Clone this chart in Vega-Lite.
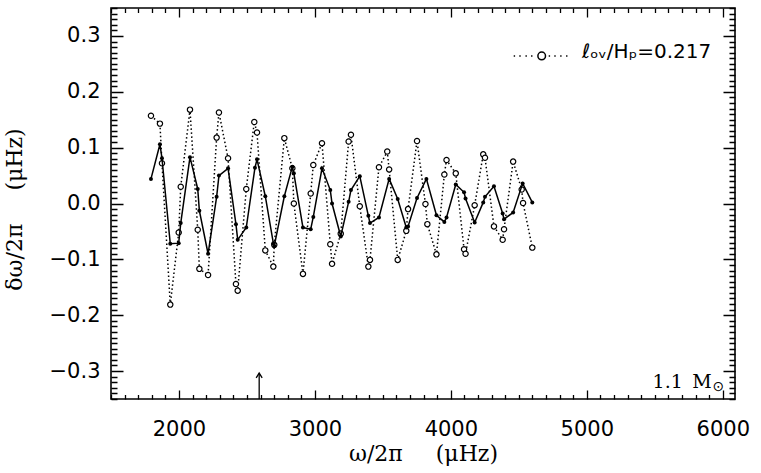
{
  "$schema": "https://vega.github.io/schema/vega-lite/v6.json",
  "width": 624,
  "height": 391,
  "autosize": {"type": "none"},
  "padding": {"left": 111, "top": 8, "right": 26, "bottom": 74},
  "background": "white",
  "config": {"view": {"stroke": "black", "strokeWidth": 1.6}},
  "datasets": {
    "modes": [
      {"nu": 1794, "dnu": 0.044, "series": "filled"},
      {"nu": 1860, "dnu": 0.106, "series": "filled"},
      {"nu": 1875, "dnu": 0.081, "series": "filled"},
      {"nu": 1936, "dnu": -0.072, "series": "filled"},
      {"nu": 1998, "dnu": -0.071, "series": "filled"},
      {"nu": 2013, "dnu": -0.035, "series": "filled"},
      {"nu": 2081, "dnu": 0.083, "series": "filled"},
      {"nu": 2138, "dnu": 0.026, "series": "filled"},
      {"nu": 2150, "dnu": -0.013, "series": "filled"},
      {"nu": 2214, "dnu": -0.090, "series": "filled"},
      {"nu": 2277, "dnu": 0.012, "series": "filled"},
      {"nu": 2294, "dnu": 0.050, "series": "filled"},
      {"nu": 2361, "dnu": 0.063, "series": "filled"},
      {"nu": 2419, "dnu": -0.037, "series": "filled"},
      {"nu": 2432, "dnu": -0.065, "series": "filled"},
      {"nu": 2495, "dnu": -0.043, "series": "filled"},
      {"nu": 2559, "dnu": 0.064, "series": "filled"},
      {"nu": 2574, "dnu": 0.079, "series": "filled"},
      {"nu": 2635, "dnu": 0.013, "series": "filled"},
      {"nu": 2694, "dnu": -0.071, "series": "filled"},
      {"nu": 2701, "dnu": -0.076, "series": "filled"},
      {"nu": 2775, "dnu": 0.013, "series": "filled"},
      {"nu": 2834, "dnu": 0.066, "series": "filled"},
      {"nu": 2845, "dnu": 0.054, "series": "filled"},
      {"nu": 2912, "dnu": -0.043, "series": "filled"},
      {"nu": 2969, "dnu": -0.046, "series": "filled"},
      {"nu": 2988, "dnu": -0.024, "series": "filled"},
      {"nu": 3052, "dnu": 0.063, "series": "filled"},
      {"nu": 3113, "dnu": 0.024, "series": "filled"},
      {"nu": 3126, "dnu": 0.000, "series": "filled"},
      {"nu": 3190, "dnu": -0.059, "series": "filled"},
      {"nu": 3248, "dnu": 0.003, "series": "filled"},
      {"nu": 3265, "dnu": 0.024, "series": "filled"},
      {"nu": 3330, "dnu": 0.049, "series": "filled"},
      {"nu": 3393, "dnu": -0.022, "series": "filled"},
      {"nu": 3405, "dnu": -0.035, "series": "filled"},
      {"nu": 3471, "dnu": -0.025, "series": "filled"},
      {"nu": 3546, "dnu": 0.044, "series": "filled"},
      {"nu": 3609, "dnu": 0.008, "series": "filled"},
      {"nu": 3672, "dnu": -0.043, "series": "filled"},
      {"nu": 3685, "dnu": -0.041, "series": "filled"},
      {"nu": 3751, "dnu": 0.010, "series": "filled"},
      {"nu": 3820, "dnu": 0.044, "series": "filled"},
      {"nu": 3894, "dnu": -0.021, "series": "filled"},
      {"nu": 3952, "dnu": -0.033, "series": "filled"},
      {"nu": 3968, "dnu": -0.025, "series": "filled"},
      {"nu": 4036, "dnu": 0.034, "series": "filled"},
      {"nu": 4097, "dnu": 0.020, "series": "filled"},
      {"nu": 4108, "dnu": 0.009, "series": "filled"},
      {"nu": 4175, "dnu": -0.034, "series": "filled"},
      {"nu": 4238, "dnu": 0.002, "series": "filled"},
      {"nu": 4251, "dnu": 0.012, "series": "filled"},
      {"nu": 4317, "dnu": 0.031, "series": "filled"},
      {"nu": 4381, "dnu": -0.018, "series": "filled"},
      {"nu": 4391, "dnu": -0.028, "series": "filled"},
      {"nu": 4458, "dnu": -0.016, "series": "filled"},
      {"nu": 4528, "dnu": 0.036, "series": "filled"},
      {"nu": 4599, "dnu": 0.002, "series": "filled"},
      {"nu": 1794, "dnu": 0.157, "series": "ℓₒᵥ/Hₚ=0.217"},
      {"nu": 1860, "dnu": 0.143, "series": "ℓₒᵥ/Hₚ=0.217"},
      {"nu": 1875, "dnu": 0.072, "series": "ℓₒᵥ/Hₚ=0.217"},
      {"nu": 1936, "dnu": -0.181, "series": "ℓₒᵥ/Hₚ=0.217"},
      {"nu": 1998, "dnu": -0.052, "series": "ℓₒᵥ/Hₚ=0.217"},
      {"nu": 2013, "dnu": 0.030, "series": "ℓₒᵥ/Hₚ=0.217"},
      {"nu": 2081, "dnu": 0.168, "series": "ℓₒᵥ/Hₚ=0.217"},
      {"nu": 2138, "dnu": -0.047, "series": "ℓₒᵥ/Hₚ=0.217"},
      {"nu": 2150, "dnu": -0.117, "series": "ℓₒᵥ/Hₚ=0.217"},
      {"nu": 2214, "dnu": -0.128, "series": "ℓₒᵥ/Hₚ=0.217"},
      {"nu": 2277, "dnu": 0.118, "series": "ℓₒᵥ/Hₚ=0.217"},
      {"nu": 2294, "dnu": 0.163, "series": "ℓₒᵥ/Hₚ=0.217"},
      {"nu": 2361, "dnu": 0.081, "series": "ℓₒᵥ/Hₚ=0.217"},
      {"nu": 2419, "dnu": -0.144, "series": "ℓₒᵥ/Hₚ=0.217"},
      {"nu": 2432, "dnu": -0.156, "series": "ℓₒᵥ/Hₚ=0.217"},
      {"nu": 2495, "dnu": 0.026, "series": "ℓₒᵥ/Hₚ=0.217"},
      {"nu": 2554, "dnu": 0.146, "series": "ℓₒᵥ/Hₚ=0.217"},
      {"nu": 2574, "dnu": 0.127, "series": "ℓₒᵥ/Hₚ=0.217"},
      {"nu": 2635, "dnu": -0.084, "series": "ℓₒᵥ/Hₚ=0.217"},
      {"nu": 2694, "dnu": -0.113, "series": "ℓₒᵥ/Hₚ=0.217"},
      {"nu": 2701, "dnu": -0.074, "series": "ℓₒᵥ/Hₚ=0.217"},
      {"nu": 2775, "dnu": 0.117, "series": "ℓₒᵥ/Hₚ=0.217"},
      {"nu": 2834, "dnu": 0.063, "series": "ℓₒᵥ/Hₚ=0.217"},
      {"nu": 2845, "dnu": 0.000, "series": "ℓₒᵥ/Hₚ=0.217"},
      {"nu": 2912, "dnu": -0.126, "series": "ℓₒᵥ/Hₚ=0.217"},
      {"nu": 2969, "dnu": 0.018, "series": "ℓₒᵥ/Hₚ=0.217"},
      {"nu": 2988, "dnu": 0.069, "series": "ℓₒᵥ/Hₚ=0.217"},
      {"nu": 3052, "dnu": 0.108, "series": "ℓₒᵥ/Hₚ=0.217"},
      {"nu": 3113, "dnu": -0.073, "series": "ℓₒᵥ/Hₚ=0.217"},
      {"nu": 3126, "dnu": -0.108, "series": "ℓₒᵥ/Hₚ=0.217"},
      {"nu": 3190, "dnu": -0.054, "series": "ℓₒᵥ/Hₚ=0.217"},
      {"nu": 3248, "dnu": 0.111, "series": "ℓₒᵥ/Hₚ=0.217"},
      {"nu": 3265, "dnu": 0.123, "series": "ℓₒᵥ/Hₚ=0.217"},
      {"nu": 3330, "dnu": -0.005, "series": "ℓₒᵥ/Hₚ=0.217"},
      {"nu": 3393, "dnu": -0.113, "series": "ℓₒᵥ/Hₚ=0.217"},
      {"nu": 3405, "dnu": -0.101, "series": "ℓₒᵥ/Hₚ=0.217"},
      {"nu": 3471, "dnu": 0.065, "series": "ℓₒᵥ/Hₚ=0.217"},
      {"nu": 3532, "dnu": 0.093, "series": "ℓₒᵥ/Hₚ=0.217"},
      {"nu": 3546, "dnu": 0.061, "series": "ℓₒᵥ/Hₚ=0.217"},
      {"nu": 3609, "dnu": -0.101, "series": "ℓₒᵥ/Hₚ=0.217"},
      {"nu": 3672, "dnu": -0.049, "series": "ℓₒᵥ/Hₚ=0.217"},
      {"nu": 3685, "dnu": -0.010, "series": "ℓₒᵥ/Hₚ=0.217"},
      {"nu": 3751, "dnu": 0.112, "series": "ℓₒᵥ/Hₚ=0.217"},
      {"nu": 3813, "dnu": -0.001, "series": "ℓₒᵥ/Hₚ=0.217"},
      {"nu": 3827, "dnu": -0.037, "series": "ℓₒᵥ/Hₚ=0.217"},
      {"nu": 3894, "dnu": -0.091, "series": "ℓₒᵥ/Hₚ=0.217"},
      {"nu": 3952, "dnu": 0.052, "series": "ℓₒᵥ/Hₚ=0.217"},
      {"nu": 3968, "dnu": 0.078, "series": "ℓₒᵥ/Hₚ=0.217"},
      {"nu": 4036, "dnu": 0.054, "series": "ℓₒᵥ/Hₚ=0.217"},
      {"nu": 4097, "dnu": -0.082, "series": "ℓₒᵥ/Hₚ=0.217"},
      {"nu": 4108, "dnu": -0.090, "series": "ℓₒᵥ/Hₚ=0.217"},
      {"nu": 4175, "dnu": -0.003, "series": "ℓₒᵥ/Hₚ=0.217"},
      {"nu": 4238, "dnu": 0.088, "series": "ℓₒᵥ/Hₚ=0.217"},
      {"nu": 4251, "dnu": 0.082, "series": "ℓₒᵥ/Hₚ=0.217"},
      {"nu": 4317, "dnu": -0.041, "series": "ℓₒᵥ/Hₚ=0.217"},
      {"nu": 4381, "dnu": -0.065, "series": "ℓₒᵥ/Hₚ=0.217"},
      {"nu": 4391, "dnu": -0.046, "series": "ℓₒᵥ/Hₚ=0.217"},
      {"nu": 4458, "dnu": 0.075, "series": "ℓₒᵥ/Hₚ=0.217"},
      {"nu": 4521, "dnu": 0.025, "series": "ℓₒᵥ/Hₚ=0.217"},
      {"nu": 4531, "dnu": 0.001, "series": "ℓₒᵥ/Hₚ=0.217"},
      {"nu": 4599, "dnu": -0.079, "series": "ℓₒᵥ/Hₚ=0.217"}
    ],
    "marker": [{"nu": 2590}],
    "mass": [{"label": "1.1\u2002M"}],
    "sun": [{"label": "⊙"}]
  },
  "layer": [
    {
      "data": {"name": "modes"},
      "transform": [{"filter": "datum.series !== 'filled'"}],
      "mark": {"type": "line", "color": "black", "strokeWidth": 1.5, "strokeDash": [1.5, 2.5]},
      "encoding": {
        "x": {
          "field": "nu", "type": "quantitative",
          "scale": {"domain": [1500, 6090], "nice": false, "zero": false},
          "axis": {
            "values": [1500,1600,1700,1800,1900,2000,2100,2200,2300,2400,2500,2600,2700,2800,2900,3000,3100,3200,3300,3400,3500,3600,3700,3800,3900,4000,4100,4200,4300,4400,4500,4600,4700,4800,4900,5000,5100,5200,5300,5400,5500,5600,5700,5800,5900,6000],
            "tickCount": 200,
            "format": "d",
            "labelExpr": "datum.value % 1000 === 0 ? datum.label : ''",
            "labelFont": "DejaVu Sans", "labelFontSize": 21, "labelColor": "black",
            "labelPadding": 19, "labelOverlap": false, "labelFlush": false,
            "ticks": false, "tickSize": 0, "domain": false,
            "grid": true, "gridColor": "black", "gridOpacity": 1, "gridWidth": 1.3,
            "gridDash": {"condition": {"test": "datum.value % 1000 === 0", "value": [9, 373, 9, 2000]}, "value": [4.5, 382, 4.5, 2000]},
            "title": "ω/2π\u2003\u2002(μHz)",
            "titleFont": "DejaVu Serif", "titleFontSize": 22, "titleFontWeight": "normal", "titleColor": "black",
            "titleY": 61, "titleBaseline": "alphabetic"
          }
        },
        "y": {
          "field": "dnu", "type": "quantitative",
          "scale": {"domain": [-0.35, 0.35], "nice": false, "zero": false},
          "axis": {
            "values": [-0.35,-0.34,-0.33,-0.32,-0.31,-0.3,-0.29,-0.28,-0.27,-0.26,-0.25,-0.24,-0.23,-0.22,-0.21,-0.2,-0.19,-0.18,-0.17,-0.16,-0.15,-0.14,-0.13,-0.12,-0.11,-0.1,-0.09,-0.08,-0.07,-0.06,-0.05,-0.04,-0.03,-0.02,-0.01,0,0.01,0.02,0.03,0.04,0.05,0.06,0.07,0.08,0.09,0.1,0.11,0.12,0.13,0.14,0.15,0.16,0.17,0.18,0.19,0.2,0.21,0.22,0.23,0.24,0.25,0.26,0.27,0.28,0.29,0.3,0.31,0.32,0.33,0.34,0.35],
            "tickCount": 200,
            "format": ".1f",
            "labelExpr": "abs(datum.value * 10 - round(datum.value * 10)) < 0.000001 ? datum.label : ''",
            "labelFont": "DejaVu Sans", "labelFontSize": 21, "labelColor": "black",
            "labelPadding": 11, "labelOverlap": false, "labelFlush": false,
            "ticks": false, "tickSize": 0, "domain": false,
            "grid": true, "gridColor": "black", "gridOpacity": 1, "gridWidth": 1.3,
            "gridDash": {"condition": {"test": "abs(datum.value * 10 - round(datum.value * 10)) < 0.000001", "value": [12, 600, 12, 2000]}, "value": [6, 612, 6, 2000]},
            "title": "δω/2π\u2003\u2002(μHz)",
            "titleFont": "DejaVu Serif", "titleFontSize": 22, "titleFontWeight": "normal", "titleColor": "black",
            "titleAngle": 270, "titleX": -90, "titleY": 201, "titleBaseline": "alphabetic", "titleAlign": "center"
          }
        }
      }
    },
    {
      "data": {"name": "modes"},
      "transform": [{"filter": "datum.series !== 'filled'"}],
      "mark": {"type": "point", "shape": "circle", "filled": false, "fill": "white", "fillOpacity": 1, "size": 28, "strokeWidth": 1.2, "opacity": 1},
      "encoding": {
        "x": {"field": "nu", "type": "quantitative", "scale": {"domain": [1500, 6090], "nice": false, "zero": false}},
        "y": {"field": "dnu", "type": "quantitative", "scale": {"domain": [-0.35, 0.35], "nice": false, "zero": false}},
        "stroke": {
          "field": "series", "type": "nominal",
          "scale": {"range": ["black"]},
          "legend": {
            "title": null, "orient": "none", "legendX": 401.7, "legendY": 15, "padding": 0,
            "symbolType": "M-1,0.14L-0.95,0.14M-0.8,0.14L-0.75,0.14M-0.58,0.14L-0.53,0.14M-0.38,0.14L-0.33,0.14M0.25,0.14L0.3,0.14M0.45,0.14L0.5,0.14M0.66,0.14L0.71,0.14M0.87,0.14L0.92,0.14M0.136,0.14A0.136,0.136,0,1,1,-0.136,0.14A0.136,0.136,0,1,1,0.136,0.14Z",
            "symbolSize": 3136, "symbolStrokeWidth": 1.5, "symbolFillColor": "white",
            "labelFont": "DejaVu Sans", "labelFontSize": 20, "labelColor": "black",
            "labelOffset": 11.3, "labelLimit": 0, "labelBaseline": "middle"
          }
        }
      }
    },
    {
      "data": {"name": "modes"},
      "transform": [{"filter": "datum.series === 'filled'"}],
      "mark": {"type": "line", "color": "black", "strokeWidth": 1.5},
      "encoding": {
        "x": {"field": "nu", "type": "quantitative", "scale": {"domain": [1500, 6090], "nice": false, "zero": false}},
        "y": {"field": "dnu", "type": "quantitative", "scale": {"domain": [-0.35, 0.35], "nice": false, "zero": false}}
      }
    },
    {
      "data": {"name": "modes"},
      "transform": [{"filter": "datum.series === 'filled'"}],
      "mark": {"type": "circle", "color": "black", "size": 16, "opacity": 1},
      "encoding": {
        "x": {"field": "nu", "type": "quantitative", "scale": {"domain": [1500, 6090], "nice": false, "zero": false}},
        "y": {"field": "dnu", "type": "quantitative", "scale": {"domain": [-0.35, 0.35], "nice": false, "zero": false}}
      }
    },
    {
      "data": {"name": "marker"},
      "mark": {"type": "rule", "color": "black", "strokeWidth": 1.3},
      "encoding": {
        "x": {"field": "nu", "type": "quantitative", "scale": {"domain": [1500, 6090], "nice": false, "zero": false}},
        "y": {"datum": -0.35, "type": "quantitative", "scale": {"domain": [-0.35, 0.35], "nice": false, "zero": false}},
        "y2": {"datum": -0.304}
      }
    },
    {
      "data": {"name": "marker"},
      "mark": {"type": "point", "shape": "M-1,1.6L0,0L1,1.6", "filled": false, "size": 36, "strokeWidth": 1.3, "color": "black", "opacity": 1},
      "encoding": {
        "x": {"field": "nu", "type": "quantitative", "scale": {"domain": [1500, 6090], "nice": false, "zero": false}},
        "y": {"datum": -0.3036, "type": "quantitative", "scale": {"domain": [-0.35, 0.35], "nice": false, "zero": false}}
      }
    },
    {
      "data": {"name": "mass"},
      "mark": {"type": "text", "align": "right", "baseline": "alphabetic", "font": "DejaVu Serif", "fontSize": 19, "color": "black"},
      "encoding": {
        "x": {"datum": 5919, "type": "quantitative", "scale": {"domain": [1500, 6090], "nice": false, "zero": false}},
        "y": {"datum": -0.3295, "type": "quantitative", "scale": {"domain": [-0.35, 0.35], "nice": false, "zero": false}},
        "text": {"field": "label"}
      }
    },
    {
      "data": {"name": "sun"},
      "mark": {"type": "text", "align": "center", "baseline": "middle", "font": "DejaVu Sans", "fontSize": 14, "color": "black"},
      "encoding": {
        "x": {"datum": 5967, "type": "quantitative", "scale": {"domain": [1500, 6090], "nice": false, "zero": false}},
        "y": {"datum": -0.329, "type": "quantitative", "scale": {"domain": [-0.35, 0.35], "nice": false, "zero": false}},
        "text": {"field": "label"}
      }
    }
  ]
}
